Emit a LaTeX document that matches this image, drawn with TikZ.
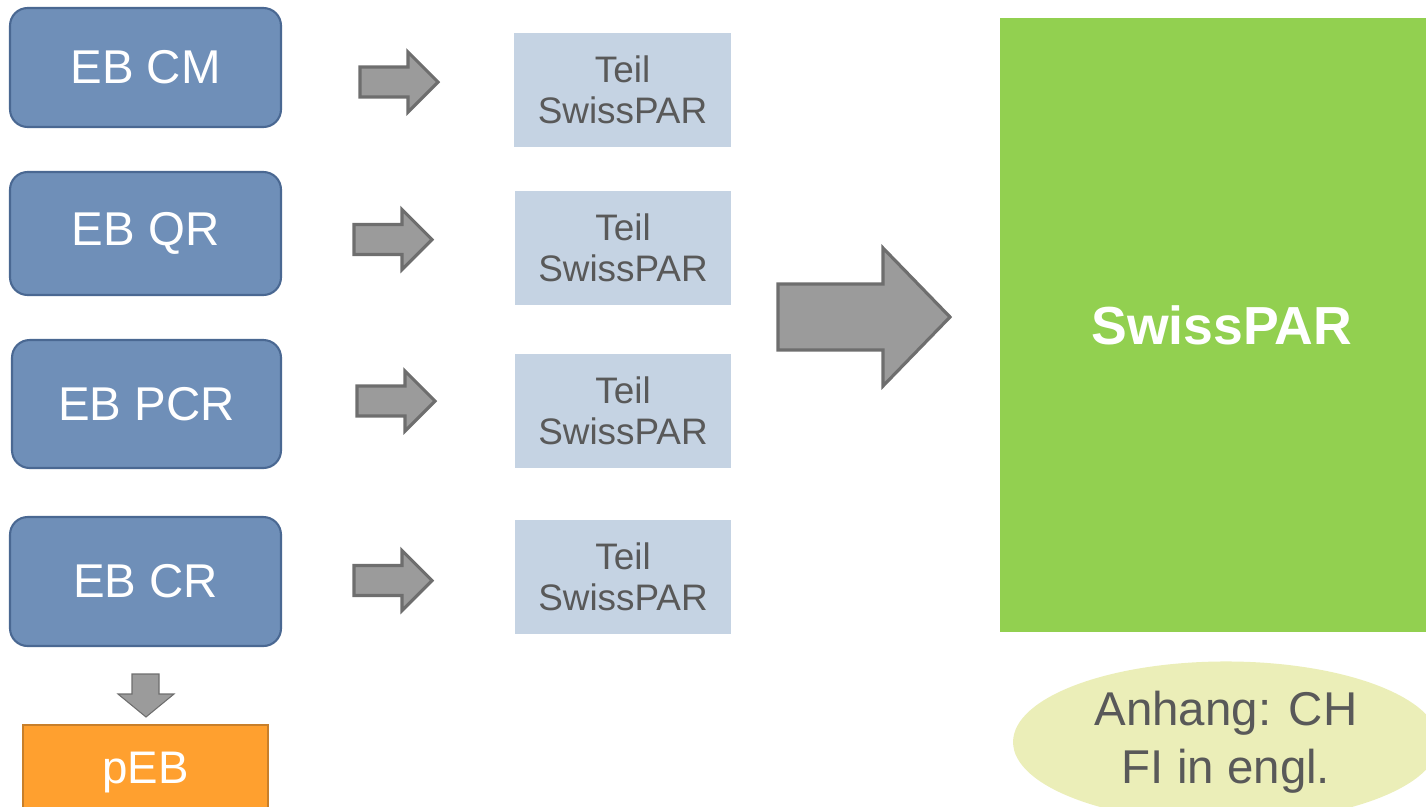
\documentclass[tikz,border=0pt]{standalone}
\usepackage{fontspec}
\setmainfont{Liberation Sans}
\usepackage{tikz}
\usetikzlibrary{shapes.geometric}
\usepackage{xcolor}
\definecolor{ebblue}{RGB}{111,143,184}
\definecolor{ebborder}{RGB}{74,104,146}
\definecolor{teilblue}{RGB}{197,211,227}
\definecolor{textgrey}{RGB}{89,89,89}
\definecolor{pargreen}{RGB}{146,208,80}
\definecolor{peborange}{RGB}{255,160,47}
\definecolor{peborder}{RGB}{200,127,42}
\definecolor{arrowgrey}{RGB}{155,155,155}
\definecolor{arrowborder}{RGB}{110,110,110}
\definecolor{notegreen}{RGB}{235,238,184}

\tikzset{
  ebbox/.style={draw=ebborder, line width=1.2pt, fill=ebblue, rounded corners=10pt,
    text=white, font=\fontsize{27}{30}\selectfont},
  teilbox/.style={fill=teilblue, text=textgrey, minimum width=4.34cm, minimum height=2.28cm,
    align=center, font=\fontsize{21}{23.5}\selectfont},
  blockarrow/.style={draw=arrowborder, line width=1.8pt, fill=arrowgrey, line join=miter}
}

\begin{document}
\begin{tikzpicture}[x=0.02cm, y=-0.02cm]
    % Frame of the slide
    \useasboundingbox (0,0) rectangle (1426,806);
    \clip (0,0) rectangle (1426,806);

    % EB boxes
    \node[ebbox, minimum width=5.42cm, minimum height=2.38cm] (ebcm) at (145.5,67.5) {EB CM};
    \node[ebbox, minimum width=5.42cm, minimum height=2.46cm] (ebqr) at (145.5,233.5) {EB QR};
    \node[ebbox, minimum width=5.38cm, minimum height=2.56cm] (ebpcr) at (146.5,404) {EB PCR};
    \node[ebbox, minimum width=5.42cm, minimum height=2.58cm] (ebcr) at (145.5,581.5) {EB CR};

    % Partial SwissPAR boxes
    \node[teilbox] (teil1) at (622.5,90) {Teil\\SwissPAR};
    \node[teilbox] (teil2) at (623,248) {Teil\\SwissPAR};
    \node[teilbox] (teil3) at (623,411) {Teil\\SwissPAR};
    \node[teilbox] (teil4) at (623,577) {Teil\\SwissPAR};

    % Small block arrows
    \foreach \ax/\ay in {360/82, 354/239.5, 357/401, 354/580.5} {
        \draw[blockarrow] (\ax,\ay-15) -- ++(48,0) -- ++(0,-15) -- ++(30,30)
            -- ++(-30,30) -- ++(0,-15) -- ++(-48,0) -- cycle;
    }

    % Big block arrow
    \draw[blockarrow] (778,284) -- (883,284) -- (883,248) -- (950,317)
        -- (883,386) -- (883,350) -- (778,350) -- cycle;

    % SwissPAR
    \node[fill=pargreen, minimum width=8.52cm, minimum height=12.28cm, text=white,
          font=\bfseries\fontsize{30.5}{36}\selectfont] (swisspar) at (1213,325) {\hspace{10pt}SwissPAR};

    % Down arrow and pEB
    \draw[blockarrow, line width=0.6pt] (132,674) -- (159,674) -- (159,694) -- (174,694)
        -- (146,717) -- (118,694) -- (132,694) -- cycle;
    \node[draw=peborder, line width=0.8pt, fill=peborange, minimum width=4.9cm, minimum height=1.9cm,
          text=white, font=\fontsize{26}{30}\selectfont] (peb) at (145.5,772.5) {pEB};

    % Annex note
    \node[ellipse, fill=notegreen, minimum width=8.52cm, minimum height=3.08cm, text=textgrey,
          align=center, font=\fontsize{27}{33}\selectfont] (anhang) at (1226,742) {Anhang: CH\\FI in engl.};
\end{tikzpicture}
\end{document}
